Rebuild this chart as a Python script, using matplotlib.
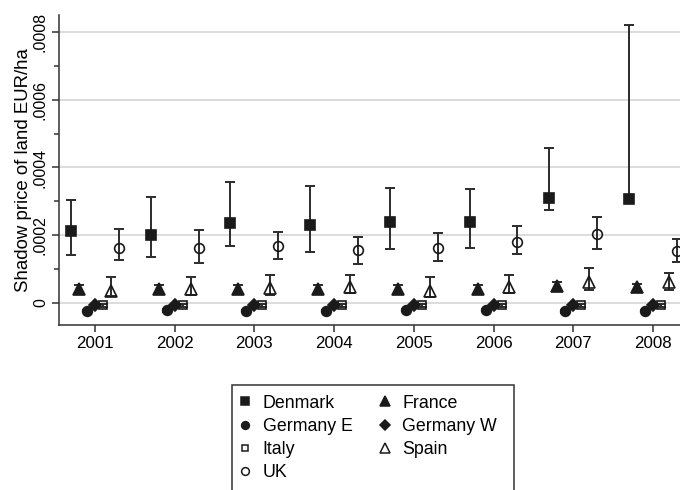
import matplotlib
matplotlib.use("Agg")
import matplotlib.pyplot as plt
from matplotlib.lines import Line2D
from matplotlib.patches import Rectangle
import numpy as np

plt.rcParams['font.family'] = ['Liberation Sans', 'DejaVu Sans']

years = [2001, 2002, 2003, 2004, 2005, 2006, 2007, 2008]

# point estimates and confidence bounds
denmark = [0.000213, 0.000199, 0.000236, 0.000231, 0.000238, 0.000238, 0.000309, 0.000307]
denmark_lo = [0.000141, 0.000136, 0.000167, 0.000151, 0.000158, 0.000161, 0.000274, 0.000303]
denmark_hi = [0.000303, 0.000312, 0.000356, 0.000345, 0.000340, 0.000336, 0.000459, 0.000820]

france = [0.0000396, 0.0000414, 0.0000396, 0.0000410, 0.0000400, 0.0000405, 0.0000494, 0.0000456]
france_lo = [0.0000290, 0.0000300, 0.0000290, 0.0000300, 0.0000290, 0.0000295, 0.0000390, 0.0000350]
france_hi = [0.0000520, 0.0000530, 0.0000520, 0.0000530, 0.0000520, 0.0000525, 0.0000600, 0.0000560]

germany_e = [-0.0000237, -0.0000230, -0.0000235, -0.0000240, -0.0000225, -0.0000225, -0.0000260, -0.0000245]
germany_e_lo = [-0.0000270, -0.0000262, -0.0000268, -0.0000272, -0.0000258, -0.0000258, -0.0000292, -0.0000278]
germany_e_hi = [-0.0000205, -0.0000198, -0.0000203, -0.0000208, -0.0000193, -0.0000193, -0.0000228, -0.0000213]

germany_w = [-0.0000068, -0.0000065, -0.0000070, -0.0000068, -0.0000066, -0.0000065, -0.0000068, -0.0000066]
germany_w_lo = [-0.0000095, -0.0000092, -0.0000097, -0.0000095, -0.0000093, -0.0000092, -0.0000095, -0.0000093]
germany_w_hi = [-0.0000041, -0.0000038, -0.0000043, -0.0000041, -0.0000039, -0.0000038, -0.0000041, -0.0000039]

italy = [-0.0000077, -0.0000075, -0.0000078, -0.0000077, -0.0000076, -0.0000075, -0.0000080, -0.0000077]
italy_lo = [-0.0000120, -0.0000118, -0.0000121, -0.0000120, -0.0000119, -0.0000118, -0.0000123, -0.0000120]
italy_hi = [-0.0000034, -0.0000032, -0.0000035, -0.0000034, -0.0000033, -0.0000032, -0.0000037, -0.0000034]

spain = [0.0000355, 0.0000414, 0.0000426, 0.0000473, 0.0000346, 0.0000456, 0.0000621, 0.0000604]
spain_lo = [0.0000200, 0.0000237, 0.0000237, 0.0000296, 0.0000178, 0.0000278, 0.0000385, 0.0000376]
spain_hi = [0.0000752, 0.0000760, 0.0000820, 0.0000820, 0.0000750, 0.0000820, 0.0001040, 0.0000888]

uk = [0.000163, 0.000161, 0.000168, 0.000155, 0.000163, 0.000180, 0.000202, 0.000154]
uk_lo = [0.000127, 0.000117, 0.000130, 0.000115, 0.000124, 0.000144, 0.000158, 0.000121]
uk_hi = [0.000217, 0.000215, 0.000210, 0.000195, 0.000207, 0.000228, 0.000253, 0.000188]

ytick_vals = [0, 0.0002, 0.0004, 0.0006, 0.0008]
ytick_labels = ['0', '.0002', '.0004', '.0006', '.0008']
yminor_vals = [0.0001, 0.0003, 0.0005, 0.0007]

series = [
    # name, values, lo, hi, offset, marker, size, filled
    ('Denmark', denmark, denmark_lo, denmark_hi, -0.3, 's', 6.8, True),
    ('France', france, france_lo, france_hi, -0.2, '^', 8.2, True),
    ('Germany E', germany_e, germany_e_lo, germany_e_hi, -0.1, 'o', 7.0, True),
    ('Germany W', germany_w, germany_w_lo, germany_w_hi, 0.0, 'D', 6.4, True),
    ('Italy', italy, italy_lo, italy_hi, 0.1, 's', 6.0, False),
    ('Spain', spain, spain_lo, spain_hi, 0.2, '^', 8.2, False),
    ('UK', uk, uk_lo, uk_hi, 0.3, 'o', 7.0, False),
]

dark = '#1a1a1a'
bar_col = '#2b2b2b'

fig = plt.figure(figsize=(6.8, 4.9), dpi=100)
ax = fig.add_axes([0.0868, 0.3367, 0.938, 0.6327])

for yv in ytick_vals:
    ax.axhline(yv, color='#d6d6d6', lw=1.2, zorder=0)

handles = {}
for name, vals, lo, hi, off, mk, ms, filled in series:
    x = np.array(years) + off
    v = np.array(vals)
    err = [v - np.array(lo), np.array(hi) - v]
    ax.errorbar(x, v, yerr=err, fmt='none', ecolor=bar_col, elinewidth=1.4,
                capsize=3.6, capthick=1.4, zorder=2)
    ax.plot(x, v, linestyle='none', marker=mk, markersize=ms,
            markerfacecolor=dark if filled else 'none',
            markeredgecolor=dark, markeredgewidth=1.2, zorder=3)
    handles[name] = Line2D([], [], linestyle='none', marker=mk, markersize=ms * 0.8,
                           markerfacecolor=dark if filled else 'none',
                           markeredgecolor=dark, markeredgewidth=1.1)

ax.set_xlim(2000.55, 2008.55)
ax.set_ylim(-0.000066, 0.000851)
ax.set_xticks(years)
ax.set_xticklabels([str(y) for y in years], fontsize=12.2)
ax.set_yticks(ytick_vals)
ax.set_yticklabels(ytick_labels, fontsize=11.5, rotation=90, va='center')
ax.set_yticks(yminor_vals, minor=True)
ax.tick_params(axis='both', which='major', length=4.8, width=1.1, color='#333333', pad=3.2)
ax.tick_params(axis='y', which='minor', length=3.5, width=1.1, color='#333333')
ax.set_ylabel('Shadow price of land EUR/ha', fontsize=13.4, labelpad=0.5)

for side in ['top', 'right']:
    ax.spines[side].set_visible(False)
for side in ['left', 'bottom']:
    ax.spines[side].set_color('#333333')
    ax.spines[side].set_linewidth(1.1)

order = ['Denmark', 'Germany E', 'Italy', 'UK', 'France', 'Germany W', 'Spain']
leg = fig.legend([handles[n] for n in order], order, ncol=2, loc='upper left',
                 bbox_to_anchor=(232 / 680, 1 - 386.5 / 490), fontsize=12.8,
                 frameon=False, handlelength=0.6, handletextpad=0.67,
                 columnspacing=1.52, labelspacing=0.35, borderpad=0.45,
                 borderaxespad=0)

# legend box runs past the bottom edge of the figure
fig.add_artist(Rectangle((232 / 680, -0.05), (514 - 232) / 680, 1 - 385 / 490 + 0.05,
                         transform=fig.transFigure, fill=False,
                         edgecolor='#333333', linewidth=1.1))

fig.savefig('out.png', dpi=100)
